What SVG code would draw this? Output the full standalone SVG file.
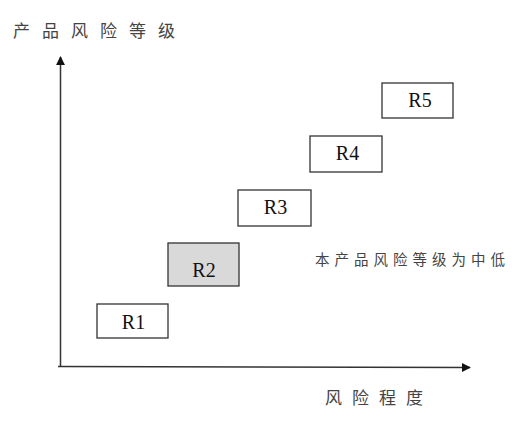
<svg xmlns="http://www.w3.org/2000/svg" width="531" height="421" viewBox="0 0 531 421">
<defs>
<style>
.box{fill:#fff;stroke:#333;stroke-width:1.3}
.grey{fill:#d9d9d9}
.lbl{font-family:"Liberation Serif","DejaVu Serif",serif;font-size:20px;fill:#111;text-anchor:middle}
.cjk{font-family:"Noto Sans CJK SC",sans-serif;fill:#444}
.axis{stroke:#333;stroke-width:1.5;fill:none}
</style>
<marker id="arr" viewBox="0 0 10 10" refX="9" refY="5" markerWidth="9" markerHeight="9" markerUnits="userSpaceOnUse" orient="auto">
<path d="M0,0 L10,5 L0,10 z" fill="#111"/>
</marker>
</defs>
<rect width="531" height="421" fill="#fff"/>
<g id="connectors">
<line class="axis" x1="60.5" y1="367" x2="60.5" y2="57" marker-end="url(#arr)"/>
<line class="axis" x1="58" y1="366.5" x2="470" y2="367.5" marker-end="url(#arr)"/>
</g>
<g id="ylabel"><text class="cjk" x="13" y="37" font-size="17" letter-spacing="12">产品风险等级</text></g>
<g id="xlabel"><text class="cjk" x="325" y="404" font-size="17" letter-spacing="10">风险程度</text></g>
<g id="note"><text class="cjk" x="315" y="265" font-size="14.5" letter-spacing="5">本产品风险等级为中低</text></g>
<g id="R1"><rect class="box" x="97" y="304" width="71" height="34"/><text class="lbl" x="133.5" y="329">R1</text></g>
<g id="R2"><rect class="box grey" x="168" y="243" width="71" height="43"/><text class="lbl" x="204" y="277">R2</text></g>
<g id="R3"><rect class="box" x="238" y="190" width="73" height="36"/><text class="lbl" x="275.5" y="214">R3</text></g>
<g id="R4"><rect class="box" x="310" y="136" width="72" height="36"/><text class="lbl" x="347.5" y="160">R4</text></g>
<g id="R5"><rect class="box" x="382" y="83" width="71" height="35"/><text class="lbl" x="420" y="107">R5</text></g>
</svg>
